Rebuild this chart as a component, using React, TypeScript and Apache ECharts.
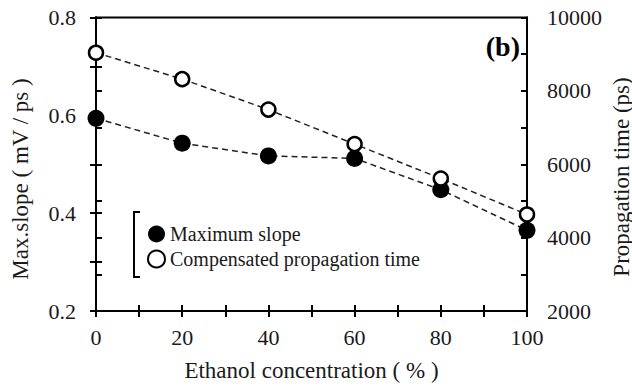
import React, { useEffect, useRef } from "react";
import * as echarts from "echarts";

const concentrations = [0, 20, 40, 60, 80, 100];
const maxSlope = [0.594, 0.543, 0.517, 0.512, 0.448, 0.365];
const propTime = [9040, 8320, 7490, 6550, 5610, 4630];
const seriesNames = ["Maximum slope", "Compensated propagation time"];
const xTitle = "Ethanol concentration ( % )";
const yLeftTitle = "Max.slope ( mV / ps )";
const yRightTitle = "Propagation time (ps)";
const panelLabel = "(b)";

const FONT = "Liberation Serif";
const INK = "#1a1a1a";

export default function App() {
  const ref = useRef<HTMLDivElement>(null);
  useEffect(() => {
    if (!ref.current) return;
    const chart = echarts.init(ref.current, undefined, { renderer: "svg" });
    const axisLine = { show: true, lineStyle: { color: "#000", width: 2 } };
    const tickOut = { show: true, inside: false, length: 6, lineStyle: { color: "#000", width: 2 } };
    const tickIn = { show: true, inside: true, length: 6, lineStyle: { color: "#000", width: 2 } };
    const labelStyle = { color: INK, fontSize: 22, fontFamily: FONT };
    const xFmt = (v: number) => (Math.round(v) % 20 === 0 ? String(Math.round(v)) : "");
    const yLFmt = (v: number) => {
      const r = Math.round(v * 10);
      return r % 2 === 0 ? (r / 10).toFixed(1) : "";
    };
    const yRFmt = (v: number) => (Math.round(v) % 2000 === 0 ? String(Math.round(v)) : "");
    const dataA = concentrations.map((c, i) => [c, maxSlope[i]]);
    const dataB = concentrations.map((c, i) => [c, propTime[i]]);

    chart.setOption({
      animation: false,
      textStyle: { fontFamily: FONT },
      grid: {
        left: 96,
        right: 105,
        top: 17.5,
        bottom: 75.3,
        show: true,
        borderColor: "#000",
        borderWidth: 2,
      },
      xAxis: [
        {
          type: "value",
          position: "bottom",
          min: 0,
          max: 100,
          interval: 10,
          axisLine,
          axisTick: tickOut,
          splitLine: { show: false },
          axisLabel: { ...labelStyle, margin: 15, formatter: xFmt },
          name: xTitle,
          nameLocation: "middle",
          nameGap: 48,
          nameTextStyle: { color: INK, fontSize: 23, fontFamily: FONT },
        },
        {
          type: "value",
          position: "bottom",
          min: 0,
          max: 100,
          interval: 10,
          axisLine,
          axisTick: tickIn,
          splitLine: { show: false },
          axisLabel: { show: false },
        },
      ],
      yAxis: [
        {
          type: "value",
          position: "left",
          min: 0.2,
          max: 0.8,
          interval: 0.1,
          axisLine,
          axisTick: tickOut,
          splitLine: { show: false },
          axisLabel: { ...labelStyle, margin: 20, formatter: yLFmt },
        },
        {
          type: "value",
          position: "right",
          min: 2000,
          max: 10000,
          interval: 1000,
          axisLine,
          axisTick: tickOut,
          splitLine: { show: false },
          axisLabel: { ...labelStyle, margin: 20, formatter: yRFmt },
        },
        {
          type: "value",
          position: "left",
          min: 0.2,
          max: 0.8,
          interval: 0.1,
          axisLine,
          axisTick: tickIn,
          splitLine: { show: false },
          axisLabel: { show: false },
        },
        {
          type: "value",
          position: "right",
          min: 2000,
          max: 10000,
          interval: 1000,
          axisLine,
          axisTick: tickIn,
          splitLine: { show: false },
          axisLabel: { show: false },
        },
      ],
      legend: {
        orient: "vertical",
        left: 142,
        top: 219,
        itemWidth: 17,
        itemHeight: 17,
        itemGap: 5,
        textStyle: { color: INK, fontSize: 20, fontFamily: FONT },
        data: [
          { name: seriesNames[0], icon: "circle" },
          { name: seriesNames[1], icon: "circle" },
        ],
      },
      series: [
        {
          name: seriesNames[0],
          type: "line",
          xAxisIndex: 0,
          yAxisIndex: 0,
          data: dataA,
          symbol: "circle",
          symbolSize: 17,
          clip: false,
          lineStyle: { color: "#222", width: 1.5, type: [6, 4] },
          itemStyle: { color: "#000", borderColor: "#000", borderWidth: 0 },
          z: 3,
        },
        {
          name: seriesNames[1],
          type: "line",
          xAxisIndex: 0,
          yAxisIndex: 1,
          data: dataB,
          symbol: "circle",
          symbolSize: 14,
          clip: false,
          lineStyle: { color: "#222", width: 1.5, type: [6, 4] },
          itemStyle: { color: "#fff", borderColor: "#000", borderWidth: 2.5 },
          z: 4,
        },
      ],
      graphic: [
        {
          type: "polyline",
          shape: { points: [[140, 212], [134, 212], [134, 277], [140, 277]] },
          style: { stroke: "#000", lineWidth: 2, fill: "none" },
        },
        {
          type: "text",
          x: 20,
          y: 179,
          rotation: Math.PI / 2,
          style: {
            text: yLeftTitle,
            fontSize: 23,
            fontFamily: FONT,
            fill: INK,
            align: "center",
            verticalAlign: "middle",
          },
        },
        {
          type: "text",
          x: 621,
          y: 177,
          rotation: Math.PI / 2,
          style: {
            text: yRightTitle,
            fontSize: 23,
            fontFamily: FONT,
            fill: INK,
            align: "center",
            verticalAlign: "middle",
          },
        },
        {
          type: "text",
          x: 520,
          y: 46,
          style: {
            text: panelLabel,
            fontSize: 28,
            fontWeight: "bold",
            fontFamily: FONT,
            fill: "#000",
            align: "right",
            verticalAlign: "middle",
          },
        },
      ],
    });
    return () => chart.dispose();
  }, []);
  return (
    <div
      ref={ref}
      style={{ position: "fixed", left: 0, top: 0, width: 632, height: 387, background: "#fff" }}
    />
  );
}
